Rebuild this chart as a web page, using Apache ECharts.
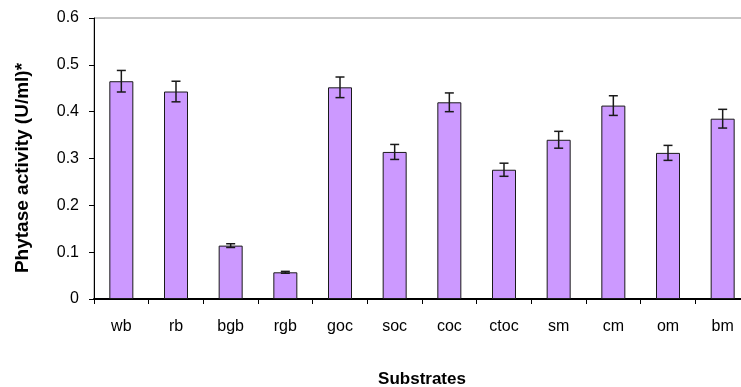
<!DOCTYPE html>
<html><head><meta charset="utf-8">
<script src="https://cdn.jsdelivr.net/npm/echarts@6/dist/echarts.min.js"></script>
<style>html,body{margin:0;padding:0;background:#fff;overflow:hidden}#c{width:741px;height:387px}</style>
</head><body><div id="c"></div>
<script>
var categories = ['wb','rb','bgb','rgb','goc','soc','coc','ctoc','sm','cm','om','bm'];
var activity = [0.465, 0.443, 0.114, 0.057, 0.452, 0.314, 0.420, 0.276, 0.340, 0.413, 0.312, 0.385];
var errors = [0.023, 0.022, 0.004, 0.002, 0.022, 0.016, 0.020, 0.014, 0.018, 0.021, 0.016, 0.020];
var yTicks = [0, 0.1, 0.2, 0.3, 0.4, 0.5, 0.6];

var chart = echarts.init(document.getElementById('c'), null, {renderer:'canvas'});
var font = 'Liberation Sans, Arial, sans-serif';
chart.setOption({
  animation: false,
  grid: {left: 94, top: 18, right: -9, bottom: 88, show: true, borderColor: '#8c8c8c', borderWidth: 1,
         containLabel: false, outerBoundsMode: 'none'},
  xAxis: {
    type: 'category', data: categories,
    name: 'Substrates', nameLocation: 'middle', nameGap: 72,
    nameTextStyle: {fontFamily: font, fontWeight: 'bold', fontSize: 17, color: '#000'},
    axisLine: {lineStyle: {color: '#000', width: 2}},
    axisTick: {show: true, alignWithLabel: false, length: 5, lineStyle: {color: '#000'}},
    axisLabel: {fontFamily: font, fontSize: 16, color: '#000', margin: 20}
  },
  yAxis: {
    type: 'value', min: 0, max: 0.6, interval: 0.1,
    name: 'Phytase activity (U/ml)*', nameLocation: 'middle', nameGap: 62,
    nameTextStyle: {fontFamily: font, fontWeight: 'bold', fontSize: 19, color: '#000', padding: [0, 19, 0, 0]},
    axisLine: {show: true, lineStyle: {color: '#000', width: 1}},
    axisTick: {show: true, length: 5, lineStyle: {color: '#000'}},
    splitLine: {show: false},
    axisLabel: {fontFamily: font, fontSize: 16, color: '#000', margin: 15,
      formatter: function(v){ return yTicks.indexOf(+v.toFixed(1)) >= 0 ? String(+v.toFixed(1)) : ''; }}
  },
  series: [{
    type: 'bar', data: activity, barWidth: 24,
    itemStyle: {color: '#CC99FF', borderColor: '#1a1a1a', borderWidth: 1}
  }, {
    type: 'custom',
    data: activity.map(function(v,i){ return [i, v, errors[i]]; }),
    renderItem: function(params, api){
      var x = api.value(0), v = api.value(1), e = api.value(2);
      var top = api.coord([x, v + e]);
      var bot = api.coord([x, v - e]);
      var cx = top[0], hw = 4.5;
      var st = {stroke: '#1a1a1a', lineWidth: 1.5};
      return {type: 'group', children: [
        {type: 'line', shape: {x1: cx, y1: top[1], x2: cx, y2: bot[1]}, style: st},
        {type: 'line', shape: {x1: cx-hw, y1: top[1], x2: cx+hw, y2: top[1]}, style: st},
        {type: 'line', shape: {x1: cx-hw, y1: bot[1], x2: cx+hw, y2: bot[1]}, style: st}
      ]};
    },
    z: 5
  }]
});
</script></body></html>
